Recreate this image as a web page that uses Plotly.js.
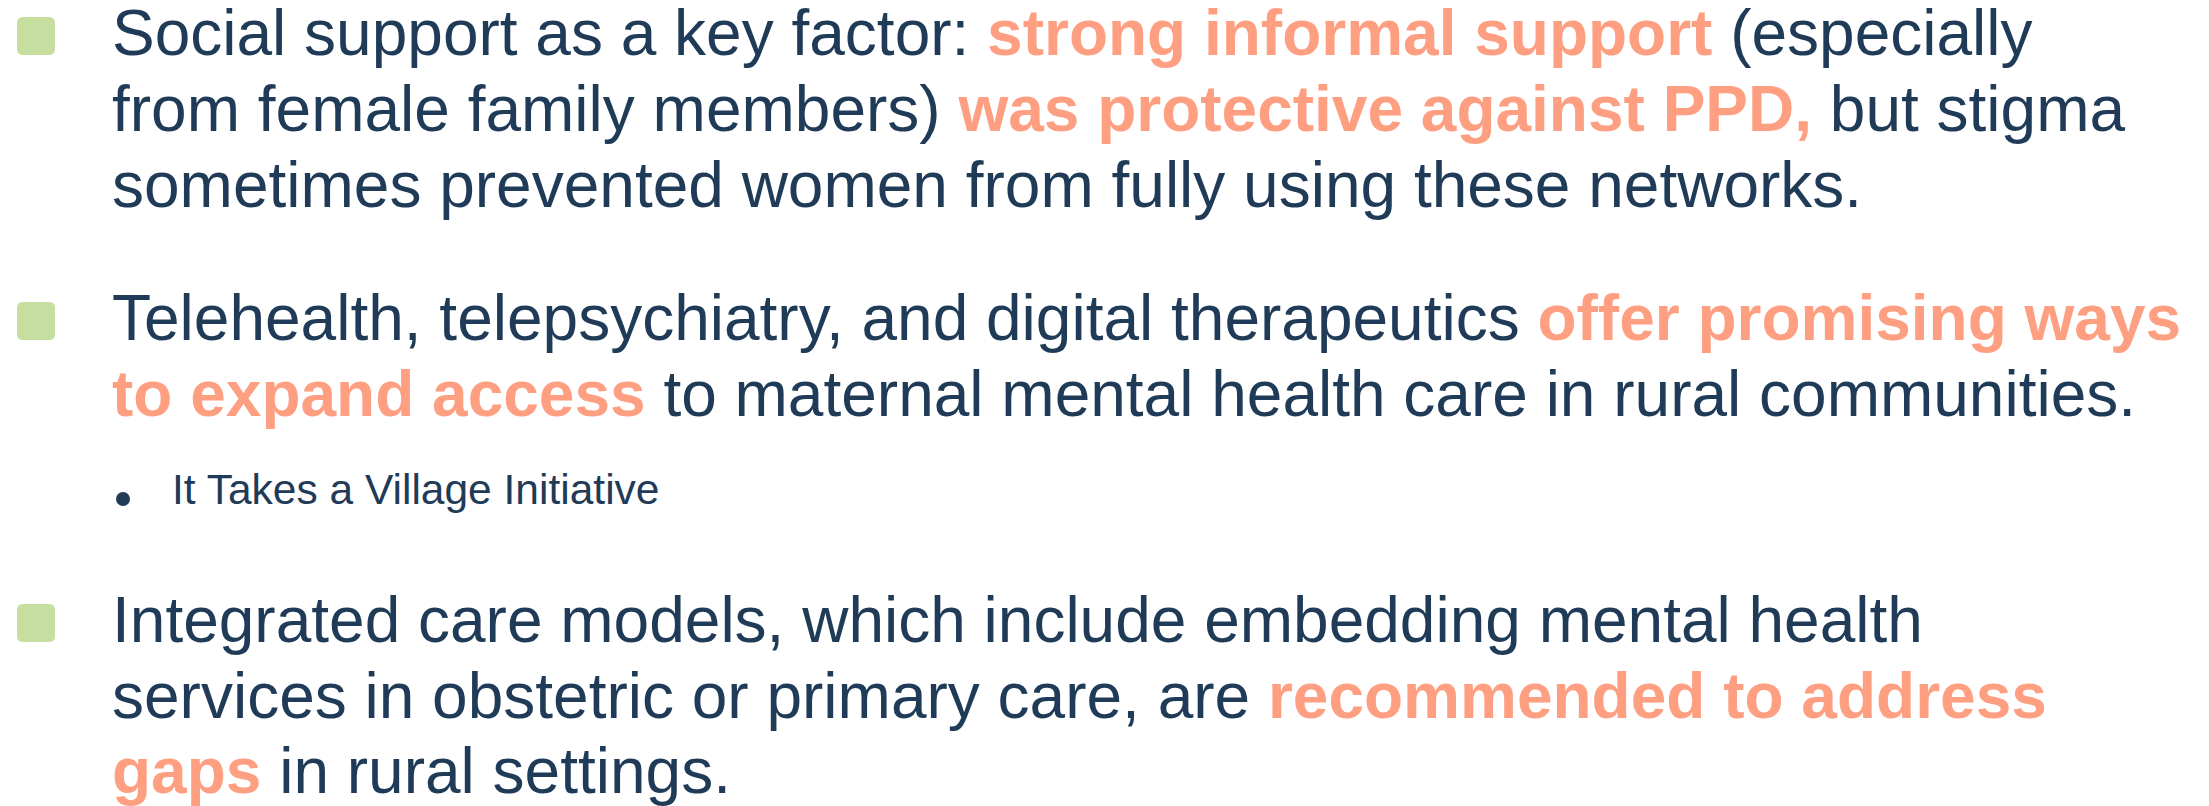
<!DOCTYPE html>
<html>
<head>
<meta charset="utf-8">
<script src="https://cdn.plot.ly/plotly-3.0.1.min.js"></script>
<style>
  html, body { margin: 0; padding: 0; background: #ffffff; }
  #chart { width: 2209px; height: 806px; }
</style>
</head>
<body>
<div id="chart"></div>
<script>
// ---- Content (text segments; 1 = highlighted bold, 0 = normal) ----
const bullet1Lines = [
  [["Social support as a key factor: ", 0], ["strong informal support", 1], [" (especially", 0]],
  [["from female family members) ", 0], ["was protective against PPD,", 1], [" but stigma", 0]],
  [["sometimes prevented women from fully using these networks.", 0]]
];
const bullet2Lines = [
  [["Telehealth, telepsychiatry, and digital therapeutics ", 0], ["offer promising ways", 1]],
  [["to expand access", 1], [" to maternal mental health care in rural communities.", 0]]
];
const subBulletLines = [
  [["It Takes a Village Initiative", 0]]
];
const bullet3Lines = [
  [["Integrated care models, which include embedding mental health", 0]],
  [["services in obstetric or primary care, are ", 0], ["recommended to address", 1]],
  [["gaps", 1], [" in rural settings.", 0]]
];

// ---- Layout / style ----
const W = 2209, H = 806;
const NAVY = "#1F3B57";
const ACCENT = "#FF9F82";
const GREEN = "#C6DFA0";
const FONT = "Liberation Sans, Arial, sans-serif";
const MAIN_SIZE = 64;
const SUB_SIZE = 42.5;
const TEXT_X = 112;
const SUB_TEXT_X = 172;

const groups = [
  { lines: bullet1Lines, baselines: [55, 131, 207], size: MAIN_SIZE, x: TEXT_X, marker: "square" },
  { lines: bullet2Lines, baselines: [340, 416], size: MAIN_SIZE, x: TEXT_X, marker: "square" },
  { lines: subBulletLines, baselines: [504], size: SUB_SIZE, x: SUB_TEXT_X, marker: "dot" },
  { lines: bullet3Lines, baselines: [642, 718, 793], size: MAIN_SIZE, x: TEXT_X, marker: "square" }
];

function segHtml(seg) {
  const t = seg[0];
  if (seg[1] === 1) return '<span style="color:' + ACCENT + '"><b>' + t + '</b></span>';
  return t;
}

const annotations = [];
const shapes = [];

groups.forEach(g => {
  g.lines.forEach((line, i) => {
    const base = g.baselines[i];
    annotations.push({
      xref: "x", yref: "y",
      x: g.x, y: base - 0.3465 * g.size,
      xanchor: "left", yanchor: "middle",
      text: line.map(segHtml).join(""),
      showarrow: false,
      align: "left",
      borderpad: 0, borderwidth: 0,
      font: { family: FONT, size: g.size, color: NAVY }
    });
  });
  const b0 = g.baselines[0];
  if (g.marker === "square") {
    const x0 = 17, x1 = 55, y1 = b0, y0 = b0 - 38, r = 6;
    const p = `M ${x0 + r},${y0} L ${x1 - r},${y0} Q ${x1},${y0} ${x1},${y0 + r} ` +
              `L ${x1},${y1 - r} Q ${x1},${y1} ${x1 - r},${y1} L ${x0 + r},${y1} ` +
              `Q ${x0},${y1} ${x0},${y1 - r} L ${x0},${y0 + r} Q ${x0},${y0} ${x0 + r},${y0} Z`;
    shapes.push({ type: "path", xref: "x", yref: "y", path: p,
                  fillcolor: GREEN, line: { width: 0 } });
  } else {
    shapes.push({ type: "circle", xref: "x", yref: "y",
                  x0: 116, x1: 130, y0: b0 - 12, y1: b0 + 2,
                  fillcolor: NAVY, line: { width: 0 } });
  }
});

const layout = {
  width: W, height: H,
  margin: { l: 0, r: 0, t: 0, b: 0, pad: 0 },
  paper_bgcolor: "#ffffff", plot_bgcolor: "#ffffff",
  showlegend: false,
  xaxis: { range: [0, W], visible: false, fixedrange: true },
  yaxis: { range: [H, 0], visible: false, fixedrange: true },
  annotations: annotations,
  shapes: shapes
};

Plotly.newPlot("chart", [], layout, { staticPlot: true, displayModeBar: false });
</script>
</body>
</html>
